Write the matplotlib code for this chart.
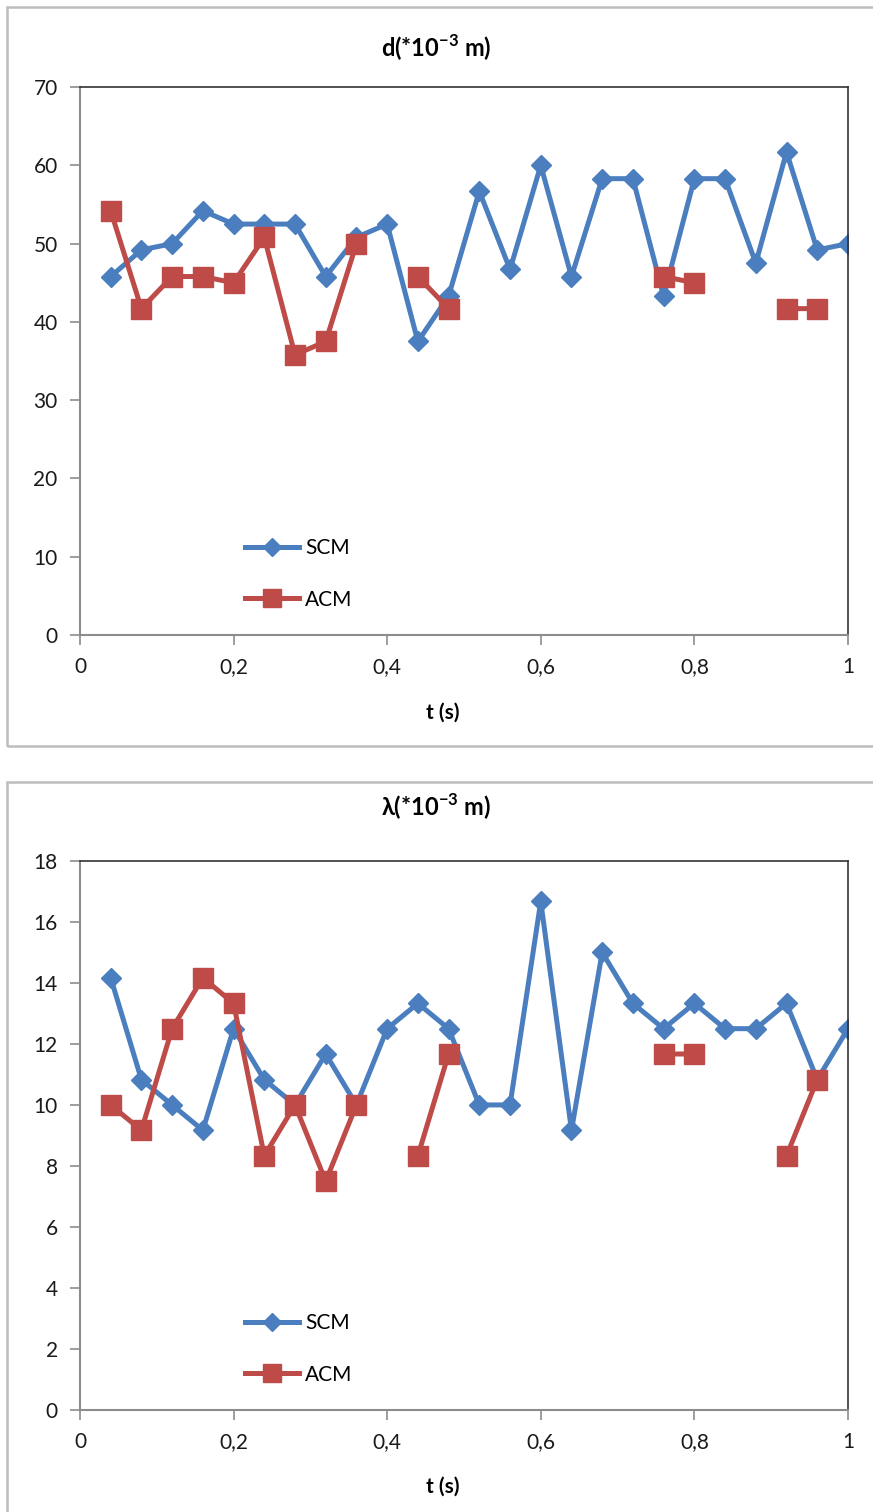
import matplotlib
matplotlib.use('Agg')
import matplotlib.pyplot as plt
from matplotlib.patches import Rectangle
from matplotlib.ticker import FuncFormatter
import numpy as np

nan = np.nan

t = [0.04, 0.08, 0.12, 0.16, 0.20, 0.24, 0.28, 0.32, 0.36, 0.40, 0.44, 0.48, 0.52,
     0.56, 0.60, 0.64, 0.68, 0.72, 0.76, 0.80, 0.84, 0.88, 0.92, 0.96, 1.00]

d_scm = [45.8, 49.2, 50.0, 54.2, 52.5, 52.5, 52.5, 45.8, 50.8, 52.5, 37.5, 43.3, 56.7,
         46.7, 60.0, 45.8, 58.3, 58.3, 43.3, 58.3, 58.3, 47.5, 61.7, 49.2, 50.0]
d_acm = [54.2, 41.7, 45.8, 45.8, 45.0, 50.8, 35.8, 37.5, 50.0, nan, 45.8, 41.7, nan,
         nan, nan, nan, nan, nan, 45.8, 45.0, nan, nan, 41.7, 41.7, nan]

lam_scm = [14.17, 10.83, 10.0, 9.17, 12.5, 10.83, 10.0, 11.67, 10.0, 12.5, 13.33, 12.5, 10.0,
           10.0, 16.67, 9.17, 15.0, 13.33, 12.5, 13.33, 12.5, 12.5, 13.33, 10.83, 12.5]
lam_acm = [10.0, 9.17, 12.5, 14.17, 13.33, 8.33, 10.0, 7.5, 10.0, nan, 8.33, 11.67, nan,
           nan, nan, nan, nan, nan, 11.67, 11.67, nan, nan, 8.33, 10.83, nan]

x_ticks = [0, 0.2, 0.4, 0.6, 0.8, 1]

FONT = ['Lato', 'DejaVu Sans']
plt.rcParams['font.family'] = FONT
plt.rcParams['mathtext.fontset'] = 'custom'
plt.rcParams['mathtext.rm'] = 'Lato'
plt.rcParams['mathtext.bf'] = 'Lato:bold'

BLUE = '#4A7EBF'
RED = '#BE4B48'
GRAY = '#8C8C8C'

fig = plt.figure(figsize=(8.73, 15.12), dpi=100)

# outer chart frames
fig.patches.append(Rectangle((0.008, 0.5066), 1.2, 0.4888, transform=fig.transFigure,
                             fill=False, edgecolor='#BDBDBD', linewidth=1.8))
fig.patches.append(Rectangle((0.008, -0.2), 1.2, 0.6828, transform=fig.transFigure,
                             fill=False, edgecolor='#BDBDBD', linewidth=1.8))


def comma(v, pos):
    s = ('%g' % v)
    return s.replace('.', ',')


def draw(ax, scm, acm, ymax, ystep, title, title_y, xlabel_y):
    ax.plot(t, scm, color=BLUE, lw=3.6, marker='D', ms=10, mfc=BLUE, mec=BLUE, label='SCM')
    ax.plot(t, acm, color=RED, lw=3.6, marker='s', ms=15, mfc=RED, mec=RED, label='ACM')
    ax.set_xlim(0, 1)
    ax.set_ylim(0, ymax)
    ax.set_xticks(x_ticks)
    ax.set_yticks(np.arange(0, ymax + ystep / 2, ystep))
    ax.xaxis.set_major_formatter(FuncFormatter(comma))
    ax.tick_params(axis='both', direction='out', length=7, width=1.2, color=GRAY,
                   labelsize=15, labelcolor='#1a1a1a')
    ax.tick_params(axis='y', pad=9)
    ax.tick_params(axis='x', pad=9)
    for s in ['left', 'bottom']:
        ax.spines[s].set_color(GRAY)
        ax.spines[s].set_linewidth(1.5)
    for s in ['top', 'right']:
        ax.spines[s].set_color('#333333')
        ax.spines[s].set_linewidth(1.2)
    ax.legend(loc='lower left', bbox_to_anchor=(0.19, 0.012), frameon=False,
              fontsize=15, handlelength=2.6, labelspacing=1.5, handletextpad=0.3,
              markerscale=0.9)
    fig.text(0.5, title_y, title, ha='center', va='center', fontsize=17,
             fontweight='bold', family=FONT)
    fig.text(0.507, xlabel_y, 't (s)', ha='center', va='center', fontsize=15,
             fontweight='bold', family=FONT)


ax1 = fig.add_axes([0.0916, 0.580, 0.8797, 0.3624])
draw(ax1, d_scm, d_acm, 70, 10, r'd(*10$^{\mathbf{-3}}$ m)', 1 - 48 / 1512, 1 - 713 / 1512)

ax2 = fig.add_axes([0.0916, 0.0675, 0.8797, 0.3631])
draw(ax2, lam_scm, lam_acm, 18, 2, r'λ(*10$^{\mathbf{-3}}$ m)', 1 - 807 / 1512, 1 - 1487 / 1512)

fig.savefig('out.png', dpi=100)
